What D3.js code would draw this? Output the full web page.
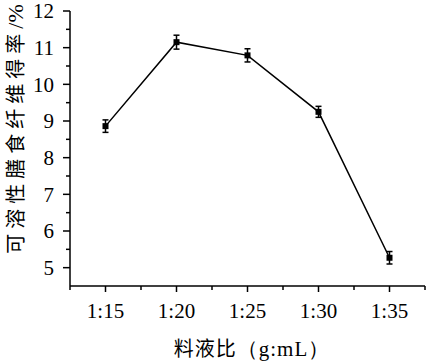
<!DOCTYPE html>
<html><head><meta charset="utf-8">
<script src="https://cdn.jsdelivr.net/npm/d3@7"></script>
</head>
<body style="margin:0"><svg id="chart" width="426" height="361" style="background:#fff"></svg>
<script>
const categories = ["1:15","1:20","1:25","1:30","1:35"];
const ratios = [15,20,25,30,35];
const values = [8.86,11.15,10.79,9.25,5.27];
const errors = [0.17,0.19,0.18,0.15,0.17];
const yTicks = [5,6,7,8,9,10,11,12];
const xTitleCJK = "料液比";
const xTitleUnit = "（g:mL）";
const yTitleCJK = "可溶性膳食纤维得率";
const yTitleUnit = "/%";

const svg = d3.select("#chart");
const x = d3.scaleLinear().domain([12.5,37.5]).range([70,425]);
const y = d3.scaleLinear().domain([4.5,12]).range([286,11]);

// y axis
const gy = svg.append("g").attr("transform","translate(70,0)");
gy.append("path").attr("stroke","#000").attr("stroke-width",1.5).attr("fill","none").attr("d","M0,"+y(4.5)+"V"+y(12));
gy.selectAll(".major").data(yTicks).enter().append("line")
  .attr("x1",-7).attr("x2",0).attr("y1",d=>y(d)).attr("y2",d=>y(d)).attr("stroke","#000").attr("stroke-width",1.5);
const yMinor = d3.range(5.5,12,1);
gy.selectAll(".minor").data(yMinor).enter().append("line")
  .attr("x1",-4).attr("x2",0).attr("y1",d=>y(d)).attr("y2",d=>y(d)).attr("stroke","#000").attr("stroke-width",1.5);
gy.selectAll("text").data(yTicks).enter().append("text")
  .attr("x",-16).attr("y",d=>y(d)).attr("dy","0.35em").attr("text-anchor","end")
  .attr("font-family","Liberation Serif").attr("font-size",21).text(d=>d);

// x axis
const gx = svg.append("g").attr("transform","translate(0,286)");
gx.append("path").attr("stroke","#000").attr("stroke-width",1.5).attr("fill","none").attr("d","M"+x(12.5)+",0H"+x(37.5));
gx.selectAll(".major").data(ratios).enter().append("line")
  .attr("x1",d=>x(d)).attr("x2",d=>x(d)).attr("y1",0).attr("y2",6).attr("stroke","#000").attr("stroke-width",1.5);
const xMinor = [12.5,17.5,22.5,27.5,32.5,37.5];
gx.selectAll(".minor").data(xMinor).enter().append("line")
  .attr("x1",d=>x(d)).attr("x2",d=>x(d)).attr("y1",0).attr("y2",4).attr("stroke","#000").attr("stroke-width",1.5);
gx.selectAll("text").data(ratios).enter().append("text")
  .attr("x",d=>x(d)).attr("y",32).attr("text-anchor","middle")
  .attr("font-family","Liberation Serif").attr("font-size",21).text((d,i)=>categories[i]);

// line
const pts = ratios.map((r,i)=>({r, v:values[i], e:errors[i]}));
svg.append("path").datum(pts).attr("fill","none").attr("stroke","#000").attr("stroke-width",1.5)
  .attr("d", d3.line().x(d=>x(d.r)).y(d=>y(d.v)));

// error bars
const eb = svg.append("g").selectAll("g").data(pts).enter().append("g");
eb.append("line").attr("x1",d=>x(d.r)).attr("x2",d=>x(d.r)).attr("y1",d=>y(d.v+d.e)).attr("y2",d=>y(d.v-d.e)).attr("stroke","#000").attr("stroke-width",1.5);
eb.append("line").attr("x1",d=>x(d.r)-3).attr("x2",d=>x(d.r)+3).attr("y1",d=>y(d.v+d.e)).attr("y2",d=>y(d.v+d.e)).attr("stroke","#000").attr("stroke-width",1.5);
eb.append("line").attr("x1",d=>x(d.r)-3).attr("x2",d=>x(d.r)+3).attr("y1",d=>y(d.v-d.e)).attr("y2",d=>y(d.v-d.e)).attr("stroke","#000").attr("stroke-width",1.5);

// markers
svg.append("g").selectAll("rect").data(pts).enter().append("rect")
  .attr("x",d=>x(d.r)-3).attr("y",d=>y(d.v)-3).attr("width",6).attr("height",6).attr("fill","#000");

// titles
const xt = svg.append("text").attr("x",252).attr("y",356).attr("text-anchor","middle");
xt.append("tspan").attr("font-family","Noto Sans CJK SC").attr("font-size",20).attr("letter-spacing",1).text(xTitleCJK);
xt.append("tspan").attr("font-family","Liberation Serif").attr("font-size",21).attr("letter-spacing",1).text(xTitleUnit);
const yt = svg.append("text").attr("transform","translate(23,129) rotate(-90)").attr("text-anchor","middle");
yt.append("tspan").attr("font-family","Noto Sans CJK SC").attr("font-size",20).attr("letter-spacing",5).text(yTitleCJK);
yt.append("tspan").attr("font-family","Liberation Serif").attr("font-size",22).text(yTitleUnit);
</script></body></html>
